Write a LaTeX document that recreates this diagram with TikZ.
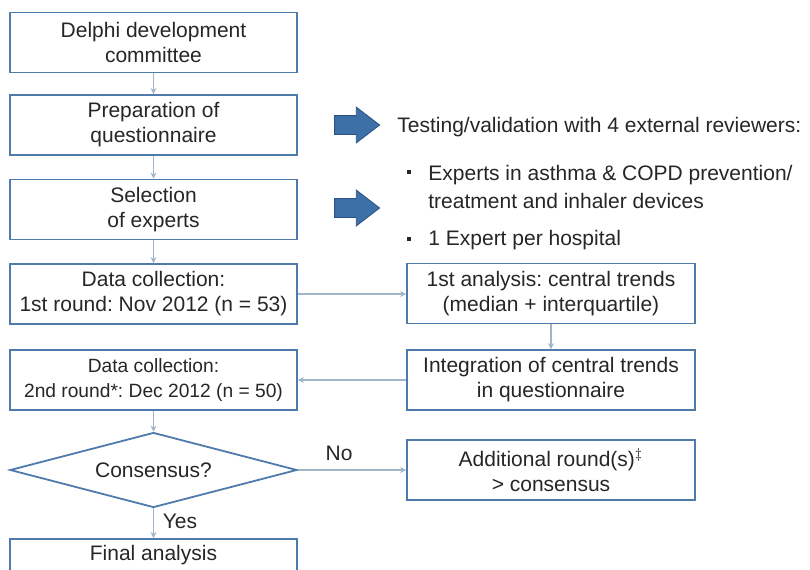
\documentclass[tikz,border=0pt]{standalone}
\usepackage{fontspec}
\setmainfont{Liberation Sans}
\usetikzlibrary{shapes.geometric,shapes.arrows,arrows.meta}

\providecommand{\colorBorder}{boxblue}
\providecommand{\colorLink}{linkgray}
\providecommand{\boxwidth}{143.5pt}
\providecommand{\boxheight}{30pt}
\providecommand{\borderthickness}{0.9pt}
\providecommand{\linkthickness}{0.6pt}

\definecolor{boxblue}{RGB}{78,122,172}
\definecolor{linkgray}{RGB}{160,180,202}
\definecolor{arrowfill}{RGB}{62,112,168}
\definecolor{arrowdraw}{RGB}{42,82,132}
\definecolor{textgray}{RGB}{38,38,38}

\frenchspacing

\begin{document}
\begin{tikzpicture}[
    x=0.5pt, y=-0.5pt,
    every node/.style={text=textgray, font=\fontsize{10.5}{12.5}\selectfont},
    % Node styles
    step_box/.style={
        rectangle,
        draw=\colorBorder,
        line width=\borderthickness,
        minimum width=\boxwidth,
        minimum height=\boxheight,
        align=center,
        inner sep=2pt
    },
    decision/.style={
        diamond,
        aspect=3.83,
        draw=\colorBorder,
        line width=\borderthickness,
        minimum width=\boxwidth,
        minimum height=37.5pt,
        inner sep=0pt
    },
    block_arrow/.style={
        single arrow,
        fill=arrowfill,
        draw=arrowdraw,
        line width=0.4pt,
        minimum height=22.5pt,
        single arrow head extend=4.25pt,
        single arrow tip angle=75,
        inner sep=4.5pt
    },
    bullet_mark/.style={
        rectangle,
        fill=textgray,
        minimum size=1.8pt,
        inner sep=0pt
    },
    note/.style={anchor=west, inner sep=0pt},
    % Edge styles
    link/.style={
        line width=\linkthickness,
        draw=\colorLink,
        -{Stealth[length=3pt,width=3pt]}
    }
]
    \useasboundingbox (0,0) rectangle (810,569);
    \clip (0,0) rectangle (810,569);

    % ==================== LEFT COLUMN: main flow ====================
    \node[step_box] (committee) at (153.5, 42.5) {Delphi development\\committee};
    \node[step_box] (prep) at (153.5, 125) {Preparation of\\questionnaire};
    \node[step_box] (select) at (153.5, 209.5) {Selection\\of experts};
    \node[step_box] (round1) at (153.5, 294) {Data collection:\\1st round: Nov 2012 (n = 53)};
    \node[step_box, font=\fontsize{9.6}{12.5}\selectfont] (round2) at (153.5, 380) {Data collection:\\2nd round*: Dec 2012 (n = 50)};
    \node[decision] (consensus) at (153.5, 470) {Consensus?};
    \node[step_box, anchor=north, minimum height=0pt, inner ysep=3.5pt,
          text height=7.5pt, text depth=30pt] (final) at (153.5, 538) {Final analysis};

    % ==================== RIGHT COLUMN: analysis loop ====================
    \node[step_box, minimum width=144pt] (analysis) at (551, 293.5) {1st analysis: central trends\\(median + interquartile)};
    \node[step_box, minimum width=144pt] (integration) at (551, 380) {Integration of central trends\\in questionnaire};
    \node[step_box, minimum width=144pt] (additional) at (551, 470) {Additional round(s)$^{\ddagger}$\\> consensus};

    % Block arrows and reviewer notes
    \node[block_arrow] (arrowA) at (351, 125) {};
    \node[block_arrow] (arrowB) at (351, 208) {};
    \node[note] (testing) at (397, 127) {Testing/validation with 4 external reviewers:};
    \node[bullet_mark] (dotA) at (409, 172) {};
    \node[note] (expertsA) at (428, 175) {Experts in asthma \& COPD prevention/};
    \node[note] (expertsB) at (428, 201) {treatment and inhaler devices};
    \node[bullet_mark] (dotB) at (409, 239) {};
    \node[note] (hospital) at (428, 240) {1 Expert per hospital};

    % Connectors
    \draw[link] (committee) -- (prep);
    \draw[link] (prep) -- (select);
    \draw[link] (select) -- (round1);
    \draw[link] (round2) -- (consensus);
    \draw[link] (consensus) -- node[right, pos=0.45, xshift=1pt] {Yes} (final);
    \draw[link] (round1.east) -- (round1.east -| analysis.west);
    \draw[link] (analysis) -- (integration);
    \draw[link] (integration.west) -- (integration.west -| round2.east);
    \draw[link] (consensus.east) -- node[above, pos=0.38, yshift=1pt] {No} (consensus.east -| additional.west);

\end{tikzpicture}
\end{document}
